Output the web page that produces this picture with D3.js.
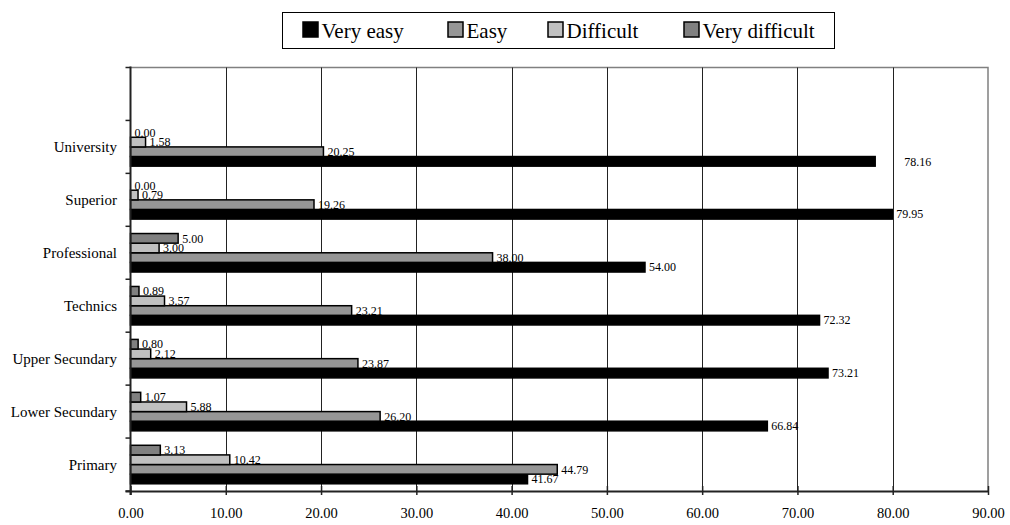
<!DOCTYPE html>
<html>
<head>
<meta charset="utf-8">
<script src="https://cdn.jsdelivr.net/npm/d3@7"></script>
<style>
  html, body { margin: 0; padding: 0; background: #fff; }
  svg { display: block; }
  svg text { font-family: "Liberation Serif", "Times New Roman", serif; }
</style>
</head>
<body>
<svg id="chart" width="1010" height="525"></svg>
<script>
// Education levels, listed bottom to top as they appear on the chart
const categories = ["Primary", "Lower Secundary", "Upper Secundary", "Technics", "Professional", "Superior", "University"];

// Percentages per answer
const veryEasy      = [41.67, 66.84, 73.21, 72.32, 54.00, 79.95, 78.16];
const easy          = [44.79, 26.20, 23.87, 23.21, 38.00, 19.26, 20.25];
const difficult     = [10.42,  5.88,  2.12,  3.57,  3.00,  0.79,  1.58];
const veryDifficult = [ 3.13,  1.07,  0.80,  0.89,  5.00,  0.00,  0.00];

const seriesNames = ["Very easy", "Easy", "Difficult", "Very difficult"];
const xTicks = [0, 10, 20, 30, 40, 50, 60, 70, 80, 90];

const SERIF = "'Liberation Serif', 'Times New Roman', serif";

const series = [
  { name: "Very easy",      values: veryEasy,      fill: "#000000" },
  { name: "Easy",           values: easy,          fill: "#969696" },
  { name: "Difficult",      values: difficult,     fill: "#c0c0c0" },
  { name: "Very difficult", values: veryDifficult, fill: "#808080" }
];

const svg = d3.select("#chart");

const plot = { left: 130.5, right: 988, top: 67.5, bottom: 491 };

const x = d3.scaleLinear().domain([0, 90]).range([plot.left, plot.right]);

// Top slot is an unlabelled blank row; then categories from top to bottom
const rows = [" "].concat(categories.slice().reverse());
const y = d3.scaleBand().domain(rows).range([plot.top, plot.bottom]).padding(0);

// Series inside each row, top to bottom
const inner = d3.scaleBand()
  .domain(seriesNames.slice().reverse())
  .range([0, y.bandwidth()])
  .paddingInner(0)
  .paddingOuter(0.75);

// Plot frame (top and right edges)
svg.append("path")
  .attr("d", `M${plot.left},${plot.top}H${plot.right}V${plot.bottom}`)
  .attr("fill", "none").attr("stroke", "#808080").attr("stroke-width", 1.5);

// Vertical grid lines
svg.append("g").selectAll("line")
  .data(xTicks.filter(t => t > 0 && t < 90))
  .join("line")
  .attr("x1", d => Math.round(x(d)) + 0.5).attr("x2", d => Math.round(x(d)) + 0.5)
  .attr("y1", plot.top).attr("y2", plot.bottom)
  .attr("stroke", "#222").attr("stroke-width", 1);

// Bars
const barG = svg.append("g");
categories.forEach((cat, i) => {
  series.forEach(s => {
    const v = s.values[i];
    const y0 = y(cat) + inner(s.name);
    if (v > 0) {
      barG.append("rect")
        .attr("x", x(0))
        .attr("y", y0)
        .attr("width", x(v) - x(0))
        .attr("height", inner.bandwidth())
        .attr("fill", s.fill)
        .attr("stroke", "#000")
        .attr("stroke-width", 1.5);
    }
  });
});

// Value labels; the University "Very easy" label sits further right
const labelNudge = { "University|Very easy": 25 };
const labelG = svg.append("g");
categories.forEach((cat, i) => {
  series.forEach(s => {
    const v = s.values[i];
    const cy = y(cat) + inner(s.name) + inner.bandwidth() / 2;
    const extra = labelNudge[cat + "|" + s.name] || 0;
    labelG.append("text")
      .attr("x", x(v) + 4 + extra)
      .attr("y", cy)
      .attr("dy", "0.35em")
      .attr("font-family", SERIF)
      .attr("font-size", 12)
      .attr("fill", "#000")
      .text(d3.format(".2f")(v));
  });
});

// Bottom axis
const xAxis = svg.append("g")
  .attr("transform", `translate(0,${plot.bottom})`)
  .call(d3.axisBottom(x).tickValues(xTicks).tickFormat(d3.format(".2f")).tickSize(4).tickSizeOuter(0));
xAxis.attr("font-family", SERIF);
xAxis.select(".domain").attr("stroke", "#222").attr("stroke-width", 2)
  .attr("d", `M${plot.left - 5},0.5H${plot.right}`);
xAxis.selectAll(".tick line").attr("stroke", "#222").attr("stroke-width", 1.5).attr("y1", -5).attr("y2", 4);
xAxis.selectAll(".tick text")
  .attr("font-family", SERIF)
  .attr("font-size", 14.5).attr("fill", "#000").attr("y", 17);

// Left axis with ticks between rows
const yAxisG = svg.append("g");
yAxisG.append("line")
  .attr("x1", plot.left).attr("x2", plot.left)
  .attr("y1", plot.top - 1).attr("y2", plot.bottom + 4)
  .attr("stroke", "#222").attr("stroke-width", 2);
const boundaries = rows.map(r => y(r)).concat([plot.bottom]);
yAxisG.selectAll("line.tk")
  .data(boundaries)
  .join("line").attr("class", "tk")
  .attr("x1", plot.left - 5).attr("x2", plot.left)
  .attr("y1", d => d).attr("y2", d => d)
  .attr("stroke", "#222").attr("stroke-width", 1.5);

yAxisG.selectAll("text")
  .data(categories)
  .join("text")
  .attr("x", 117)
  .attr("y", d => y(d) + y.bandwidth() / 2)
  .attr("dy", "0.35em")
  .attr("text-anchor", "end")
  .attr("font-family", SERIF)
  .attr("font-size", 15)
  .attr("fill", "#000")
  .text(d => d);

// Legend
const legend = svg.append("g");
legend.append("rect")
  .attr("x", 282.5).attr("y", 12.5).attr("width", 552).attr("height", 36)
  .attr("fill", "#fff").attr("stroke", "#000").attr("stroke-width", 1);
const legendX = [303, 448, 548, 684];
series.forEach((s, i) => {
  legend.append("rect")
    .attr("x", legendX[i]).attr("y", 22).attr("width", 15).attr("height", 15)
    .attr("fill", s.fill).attr("stroke", "#000").attr("stroke-width", 1.5);
  legend.append("text")
    .attr("x", legendX[i] + 18.5).attr("y", 37.5)
    .attr("font-family", SERIF)
    .attr("font-size", 21)
    .attr("fill", "#000")
    .text(s.name);
});
</script>
</body>
</html>
